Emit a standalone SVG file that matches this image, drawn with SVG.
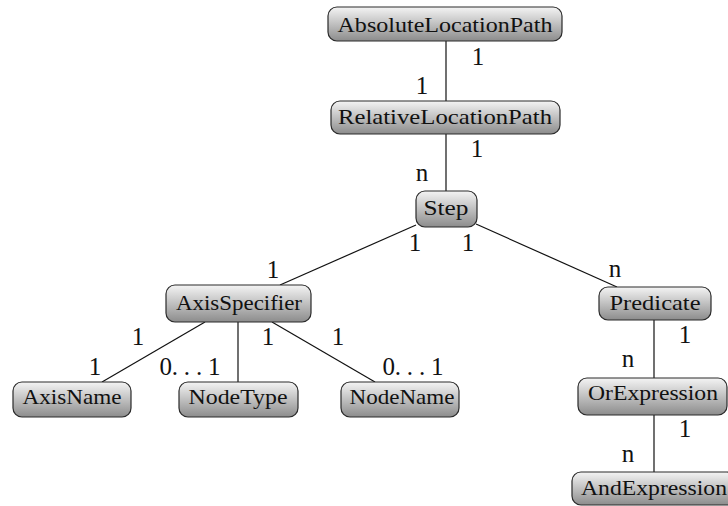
<svg xmlns="http://www.w3.org/2000/svg" width="728" height="506" viewBox="0 0 728 506">
<defs>
<linearGradient id="g" x1="0" y1="0" x2="0" y2="1">
<stop offset="0" stop-color="#f4f4f4"/>
<stop offset="1" stop-color="#8c8c8c"/>
</linearGradient>
<style>
.box{fill:url(#g);stroke:#2a2a2a;stroke-width:1.2}
.t{font-size:21px;fill:#111;text-anchor:middle}
.l{font-size:25px;fill:#111;text-anchor:middle}
.e{stroke:#111;stroke-width:1.2;fill:none}
</style>
</defs>
<rect width="728" height="506" fill="#fff"/>
<g id="connectors">
<line class="e" x1="446" y1="41" x2="446" y2="101"/>
<line class="e" x1="446" y1="134" x2="446" y2="191"/>
<line class="e" x1="416" y1="225" x2="280" y2="285"/>
<line class="e" x1="476" y1="224" x2="617" y2="287"/>
<line class="e" x1="205" y1="322" x2="102" y2="382"/>
<line class="e" x1="238" y1="322" x2="238" y2="382"/>
<line class="e" x1="272" y1="322" x2="375" y2="382"/>
<line class="e" x1="654" y1="320" x2="654" y2="378"/>
<line class="e" x1="654" y1="415" x2="654" y2="472"/>
</g>
<g id="labels" font-family="'Liberation Serif','DejaVu Serif','Noto Serif','Times New Roman',Times,Tinos,FreeSerif,serif">
<text class="l" x="478" y="65">1</text>
<text class="l" x="422" y="94">1</text>
<text class="l" x="477" y="157">1</text>
<text class="l" x="422" y="181">n</text>
<text class="l" x="415" y="251">1</text>
<text class="l" x="468" y="251">1</text>
<text class="l" x="273" y="278">1</text>
<text class="l" x="615" y="277">n</text>
<text class="l" x="138" y="345">1</text>
<text class="l" x="268" y="345">1</text>
<text class="l" x="338" y="345">1</text>
<text class="l" x="95" y="375">1</text>
<text class="l" x="190" y="375" textLength="61" lengthAdjust="spacing">0. . . 1</text>
<text class="l" x="413" y="375" textLength="61" lengthAdjust="spacing">0. . . 1</text>
<text class="l" x="685" y="343">1</text>
<text class="l" x="628" y="367">n</text>
<text class="l" x="685" y="437">1</text>
<text class="l" x="628" y="462">n</text>
</g>
<g id="nodes" font-family="'Liberation Serif','DejaVu Serif','Noto Serif','Times New Roman',Times,Tinos,FreeSerif,serif">
<g id="AbsoluteLocationPath">
<rect class="box" x="328" y="7" width="234" height="34" rx="9"/>
<text class="t" x="445" y="32" textLength="215" lengthAdjust="spacingAndGlyphs">AbsoluteLocationPath</text>
</g>
<g id="RelativeLocationPath">
<rect class="box" x="331" y="101" width="229" height="33" rx="9"/>
<text class="t" x="445" y="124" textLength="214" lengthAdjust="spacingAndGlyphs">RelativeLocationPath</text>
</g>
<g id="Step">
<rect class="box" x="416" y="191" width="61" height="36" rx="9"/>
<text class="t" x="446" y="215" textLength="45" lengthAdjust="spacingAndGlyphs">Step</text>
</g>
<g id="AxisSpecifier">
<rect class="box" x="166" y="285" width="145" height="37" rx="9"/>
<text class="t" x="239" y="310" textLength="126" lengthAdjust="spacingAndGlyphs">AxisSpecifier</text>
</g>
<g id="AxisName">
<rect class="box" x="13" y="382" width="118" height="35" rx="9"/>
<text class="t" x="72" y="404" textLength="99" lengthAdjust="spacingAndGlyphs">AxisName</text>
</g>
<g id="NodeType">
<rect class="box" x="179" y="382" width="119" height="35" rx="9"/>
<text class="t" x="238" y="404" textLength="99" lengthAdjust="spacingAndGlyphs">NodeType</text>
</g>
<g id="NodeName">
<rect class="box" x="341" y="382" width="118" height="35" rx="9"/>
<text class="t" x="402" y="404" textLength="105" lengthAdjust="spacingAndGlyphs">NodeName</text>
</g>
<g id="Predicate">
<rect class="box" x="599" y="287" width="112" height="33" rx="9"/>
<text class="t" x="655" y="310" textLength="91" lengthAdjust="spacingAndGlyphs">Predicate</text>
</g>
<g id="OrExpression">
<rect class="box" x="578" y="378" width="149" height="37" rx="9"/>
<text class="t" x="653" y="400" textLength="130" lengthAdjust="spacingAndGlyphs">OrExpression</text>
</g>
<g id="AndExpression">
<rect class="box" x="572" y="472" width="164" height="33" rx="9"/>
<text class="t" x="654" y="495" textLength="146" lengthAdjust="spacingAndGlyphs">AndExpression</text>
</g>
</g>
</svg>
